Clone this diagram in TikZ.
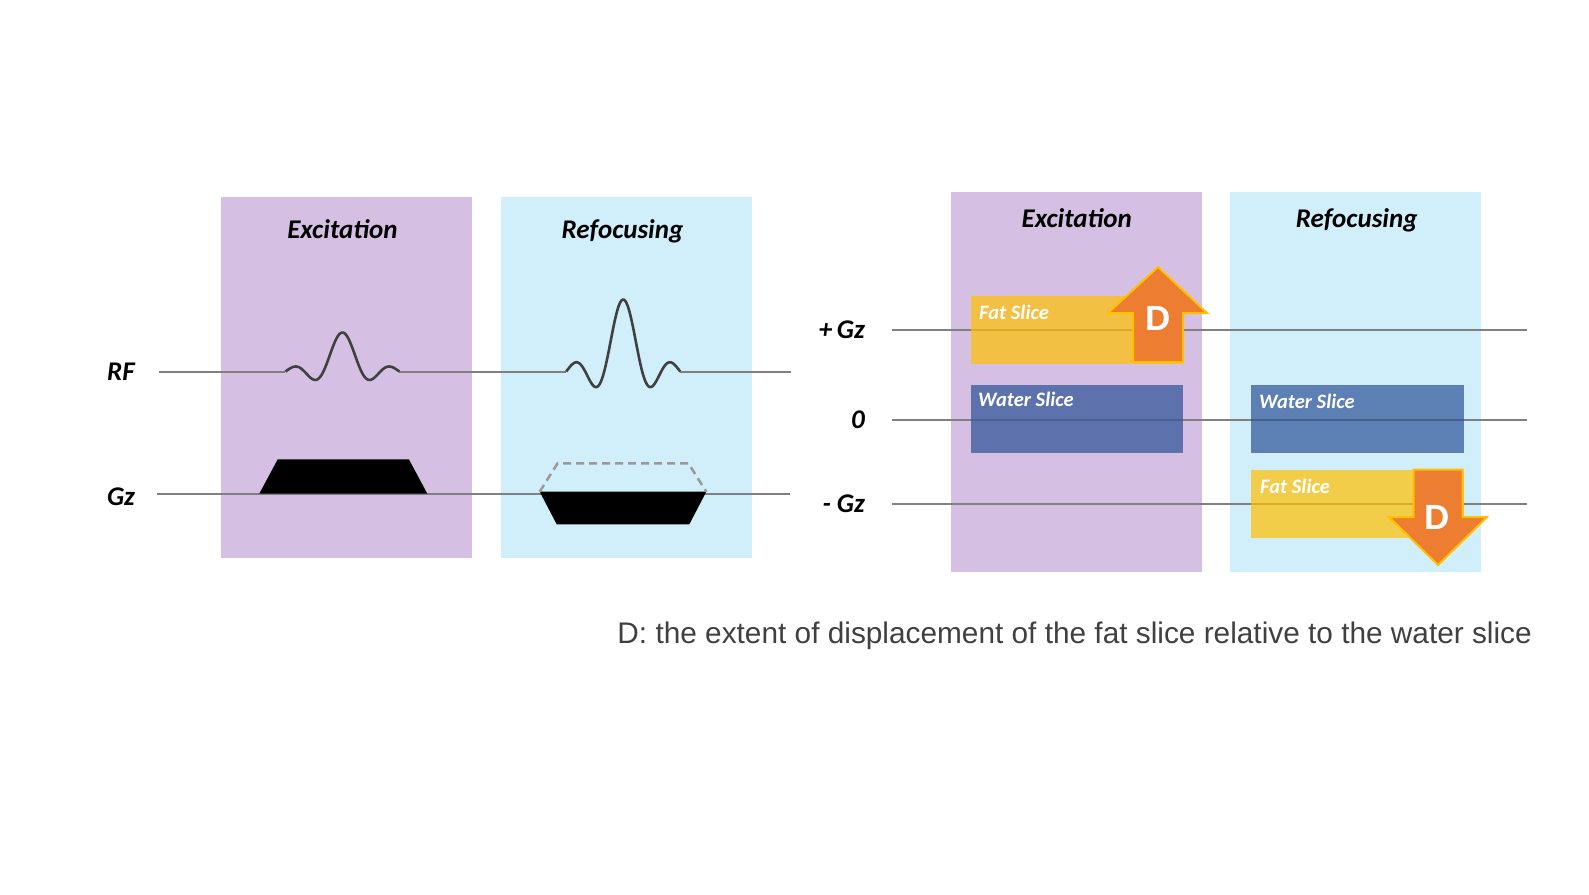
\documentclass[tikz,border=0pt]{standalone}
\usepackage{fontspec}
\setmainfont{Carlito}
\newfontfamily\arialfont{Liberation Sans}
\usetikzlibrary{positioning}
\definecolor{lilac}{RGB}{213,192,227}
\definecolor{sky}{RGB}{209,238,251}
\definecolor{fatc}{RGB}{255,192,0}
\definecolor{waterc}{RGB}{43,81,151}
\definecolor{dorange}{RGB}{237,125,49}
\definecolor{gold}{RGB}{255,192,0}
\definecolor{axisc}{RGB}{128,128,128}
\definecolor{wavec}{RGB}{64,64,64}
\definecolor{capt}{RGB}{64,64,64}
\tikzset{
  panel/.style={fill=#1,minimum width=251pt,inner sep=0pt,anchor=north west},
  ptitle/.style={font=\fontsize{27}{32}\selectfont\bfseries\itshape,anchor=base},
  axislbl/.style={font=\fontsize{27}{32}\selectfont\bfseries\itshape,inner sep=0pt},
  axis/.style={draw=axisc,line width=2pt},
  wave/.style={draw=wavec,line width=2.6pt,line join=round},
  grad/.style={fill=black},
  ghost/.style={draw=axisc!80,line width=2.5pt,dash pattern=on 8pt off 5pt},
  slice/.style={fill=#1,fill opacity=0.7,minimum width=212pt,minimum height=68pt,inner sep=0pt,anchor=north west},
  slicetxt/.style={text=white,font=\fontsize{20.5}{24}\selectfont\bfseries\itshape,anchor=west,inner sep=0pt},
  darrow/.style={fill=dorange,draw=gold,line width=2pt,line join=miter},
  dtxt/.style={text=white,font=\arialfont\fontsize{35}{40}\selectfont\bfseries,inner sep=0pt},
}
\begin{document}
\begin{tikzpicture}[x=1pt,y=-1pt]
  \useasboundingbox (0,0) rectangle (1589,894);
  % panels
  \foreach \n/\c/\x/\y/\h in {exL/lilac/221/197/361pt,reL/sky/500.5/197/361pt,
    exR/lilac/951/192/380pt,reR/sky/1230/192/380pt}
    \node[panel=\c,minimum height=\h] (\n) at (\x,\y) {};
  \node[ptitle] (exLt) at (342.4,238) {Excitation};
  \node[ptitle] (reLt) at (622.5,238) {Refocusing};
  \node[ptitle] (exRt) at (1076.7,227) {Excitation};
  \node[ptitle] (reRt) at (1356.7,227) {Refocusing};

  % sequence diagram
  \node[axislbl] (rf) at (121,372) {RF};
  \node[axislbl] (gz) at (121,497) {Gz};
  \coordinate (rfA) at (159,371.5);
  \coordinate (rfB) at (791,371.5);
  \coordinate (gzA) at (157,493.5);
  \coordinate (gzB) at (790,493.5);
  \draw[axis] (rfA) -- (285.4,371.5) (399.4,371.5) -- (566.2,371.5) (680.2,371.5) -- (rfB);
  \draw[axis] (gzA) -- (gzB);
  \foreach \cx/\a in {342.4/39,623.2/72}
    \draw[wave] plot[domain=-3*pi:3*pi,samples=90,smooth]
      ({\cx+\x*57/(3*pi)},{371.5-\a*sin(\x r)/\x});
  \fill[grad] (259.4,493.5) -- (277.7,459.3) -- (408.9,459.3) -- (427.2,493.5) -- cycle;
  \fill[grad] (539.7,491.7) -- (706.3,491.7) -- (689.3,524.3) -- (556.7,524.3) -- cycle;
  \draw[ghost] (539.7,491.7) -- (557.6,463.3) -- (688.4,463.3) -- (706.3,491.7);

  % slice positions
  \foreach \n/\t/\y in {pgz/+\,Gz/330,zero/0/419.5,mgz/- Gz/504}{
    \node[axislbl,anchor=east] (\n) at (865,\y) {\t};
    \coordinate (\n A) at (892,\y);
    \coordinate (\n B) at (1527,\y);
    \draw[axis] (\n A) -- (\n B);
  }
  \node[slice=fatc] (fatE) at (971,296) {};
  \node[slice=waterc] (watE) at (971,385) {};
  \node[slice=waterc,minimum width=212.6pt] (watR) at (1250.7,384.5) {};
  \node[slice=fatc,minimum width=212.6pt] (fatR) at (1250.7,469.5) {};
  \node[slicetxt] at (979,312) {Fat Slice};
  \node[slicetxt] at (978,399) {Water Slice};
  \node[slicetxt] at (1259,401) {Water Slice};
  \node[slicetxt] at (1260,486) {Fat Slice};

  \draw[darrow] (1133,362) -- (1133,313) -- (1108,313) -- (1158,267) -- (1207,313)
    -- (1183,313) -- (1183,362) -- cycle;
  \node[dtxt] (dUp) at (1158,318) {D};
  \draw[darrow] (1413.5,469.5) -- (1413.5,517) -- (1389,517) -- (1438,565) -- (1487,517)
    -- (1462.5,517) -- (1462.5,469.5) -- cycle;
  \node[dtxt] (dDown) at (1437,517) {D};

  \node[font=\arialfont\fontsize{29.8}{34}\selectfont,text=capt,anchor=east,inner sep=0pt] (cap)
    at (1532,636) {D: the extent of displacement of the fat slice relative to the water slice};
\end{tikzpicture}
\end{document}
